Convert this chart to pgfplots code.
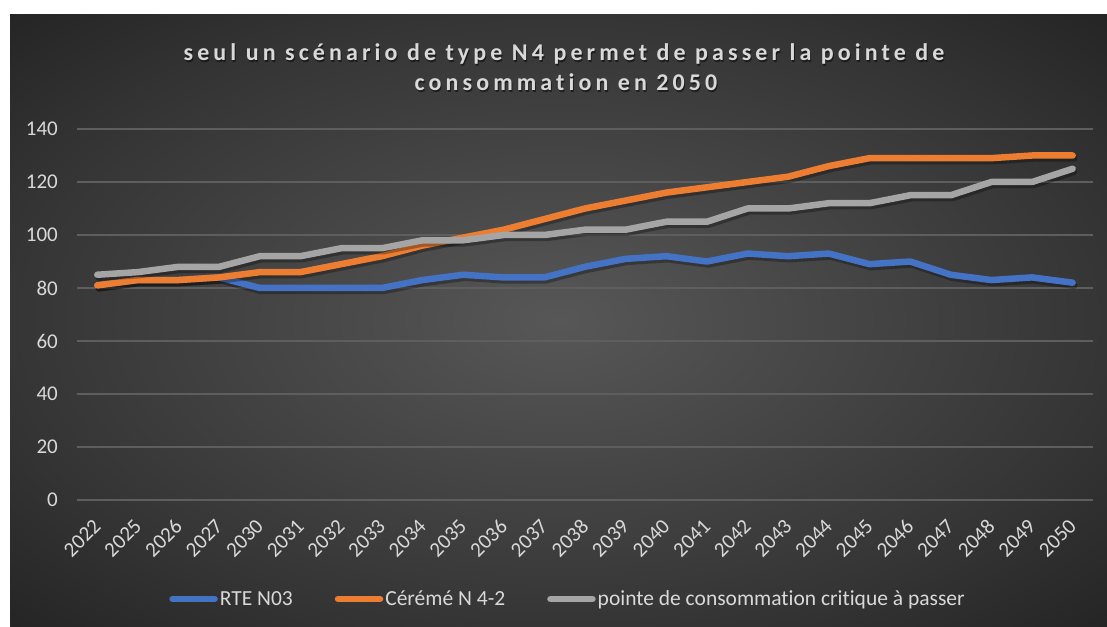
\documentclass[border=0pt]{standalone}
\usepackage{fontspec}
\setmainfont{Carlito}[Ligatures=NoCommon]
\newfontface\titleface{Carlito Bold}[LetterSpace=17, Ligatures=NoCommon]
\usepackage{pgfplots}
\usepackage{pgfplotstable}
\pgfplotsset{compat=1.18}
\definecolor{bgin}{HTML}{575757}
\definecolor{bgmid}{HTML}{353535}
\definecolor{bgout}{HTML}{242424}
\definecolor{txt}{HTML}{D9D9D9}
\definecolor{cblue}{HTML}{4472C4}
\definecolor{corange}{HTML}{ED7D31}
\definecolor{cgray}{HTML}{A5A5A5}
\definecolor{gridc}{HTML}{5E5E5E}
\pgfdeclareradialshading{bgshade}{\pgfpoint{0bp}{0bp}}{color(0bp)=(bgin); color(25bp)=(bgmid); color(36bp)=(bgout); color(50bp)=(bgout)}
\pgfplotstableread{
x blue orange gray
0 81 81 85
1 83 83 86
2 83 83 88
3 84 84 88
4 80 86 92
5 80 86 92
6 80 89 95
7 80 92 95
8 83 96 98
9 85 99 98
10 84 102 100
11 84 106 100
12 88 110 102
13 91 113 102
14 92 116 105
15 90 118 105
16 93 120 110
17 92 122 110
18 93 126 112
19 89 129 112
20 90 129 115
21 85 129 115
22 83 129 120
23 84 130 120
24 82 130 125
}\data
\begin{document}
\begin{tikzpicture}
\path[use as bounding box] (0,0) rectangle (1107pt,626pt);
\fill[white] (0,0) rectangle (1107pt,626pt);
\shade[shading=bgshade] (10pt,0pt) rectangle (1107pt,611pt);
\node[anchor=base, text=black, opacity=0.5, font=\titleface\fontsize{24}{28}\selectfont] at (565pt,563.5pt) {seul un scénario de type N4 permet de passer la pointe de};
\node[anchor=base, text=black, opacity=0.5, font=\titleface\fontsize{24}{28}\selectfont] at (567pt,533.5pt) {consommation en 2050};
\node[anchor=base, text=txt, font=\titleface\fontsize{24}{28}\selectfont] at (564pt,565pt) {seul un scénario de type N4 permet de passer la pointe de};
\node[anchor=base, text=txt, font=\titleface\fontsize{24}{28}\selectfont] at (566pt,535pt) {consommation en 2050};
\begin{axis}[
  at={(77pt,126pt)}, anchor=south west, scale only axis,
  width=1016pt, height=371pt,
  xmin=-0.5, xmax=24.5, ymin=0, ymax=140,
  xtick={0,...,24},
  xticklabels={2022,2025,2026,2027,2030,2031,2032,2033,2034,2035,2036,2037,2038,2039,2040,2041,2042,2043,2044,2045,2046,2047,2048,2049,2050},
  ytick={0,20,...,140},
  axis line style={draw=none},
  major tick length=0pt, tick style={draw=none},
  ymajorgrids, major grid style={draw=gridc, line width=1.3pt},
  /pgf/number format/assume math mode=true,
  tick label style={font=\fontsize{21}{21}\selectfont, text=txt},
  yticklabel style={anchor=east, inner sep=0pt, xshift=-19pt},
  xticklabel style={inner sep=0pt, yshift=-23pt, rotate=45, anchor=east},
  legend style={at={(0.4833,-0.2668)}, anchor=center, draw=none, fill=none,
    text=txt, font=\fontsize{21.5}{21.5}\selectfont, legend columns=3,
    /tikz/every even column/.append style={column sep=40pt},
    inner sep=0pt, nodes={inner sep=2pt}},
  legend image code/.code={\draw[#1, line cap=round] (3pt,0pt) -- (45pt,0pt);},
  every axis plot/.append style={line width=6.5pt, line join=round, line cap=round},
]
\addplot[forget plot, black, opacity=0.3, xshift=1.5pt, yshift=-3pt] table[x=x, y=blue] {\data};
\addplot[cblue] table[x=x, y=blue] {\data};
\addplot[forget plot, black, opacity=0.3, xshift=1.5pt, yshift=-3pt] table[x=x, y=orange] {\data};
\addplot[corange] table[x=x, y=orange] {\data};
\addplot[forget plot, black, opacity=0.3, xshift=1.5pt, yshift=-3pt] table[x=x, y=gray] {\data};
\addplot[cgray] table[x=x, y=gray] {\data};
\legend{RTE N03, Cérémé N 4-2, pointe de consommation critique à passer}
\end{axis}
\end{tikzpicture}
\end{document}
